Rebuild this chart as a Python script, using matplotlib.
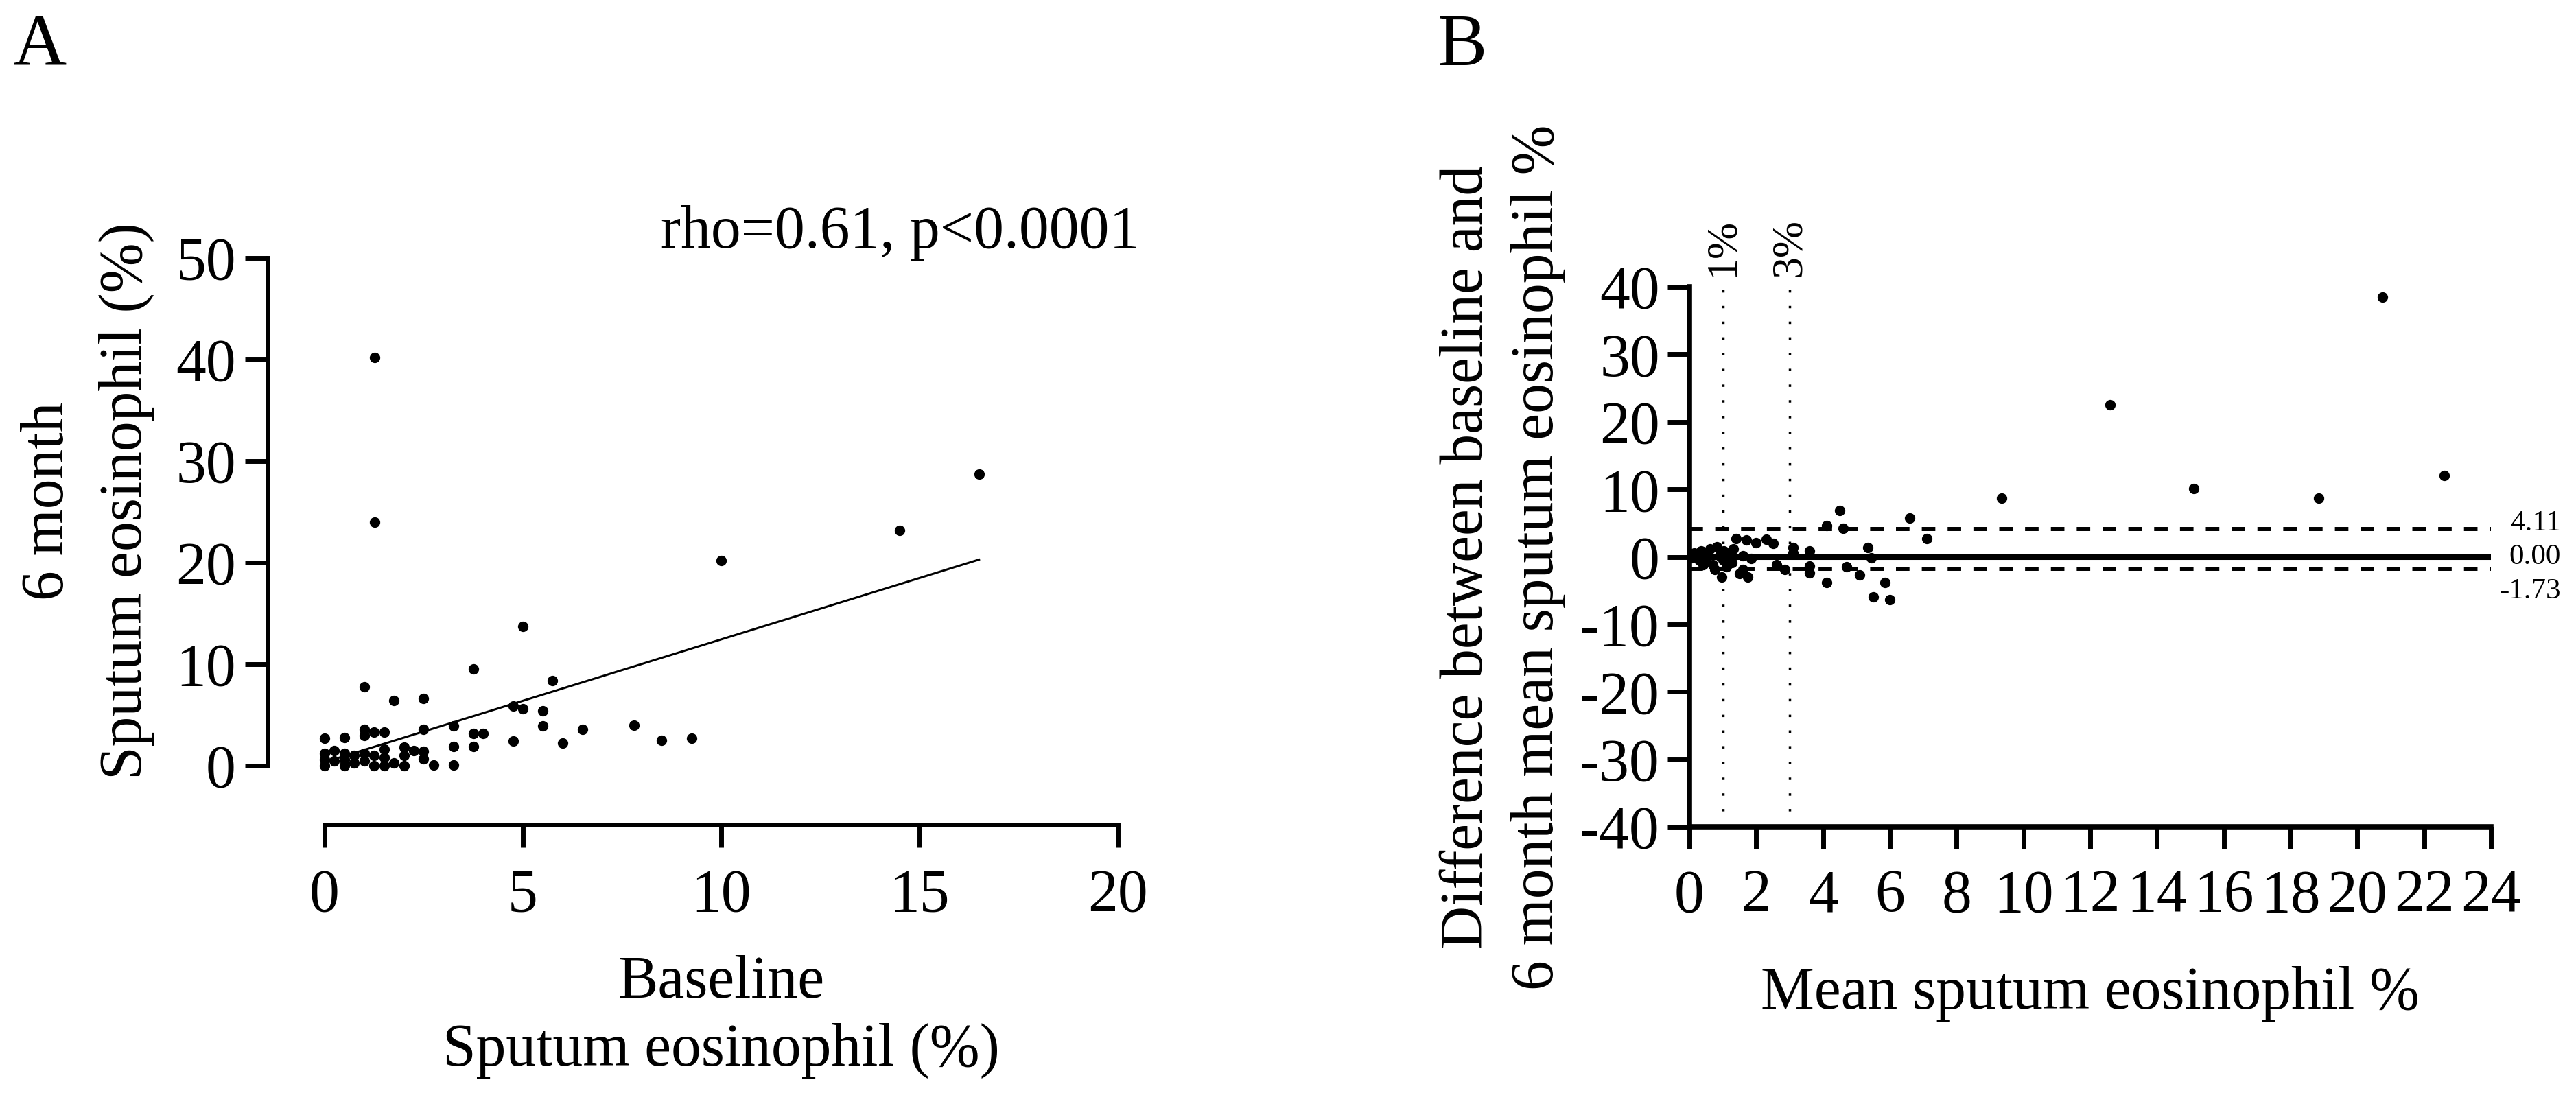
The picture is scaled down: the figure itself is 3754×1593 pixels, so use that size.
import numpy as np
import matplotlib
matplotlib.use("Agg")
import matplotlib.pyplot as plt

plt.rcParams['font.family'] = ['Liberation Serif', 'DejaVu Serif']
plt.rcParams['axes.unicode_minus'] = False

# panel A: baseline vs 6 month sputum eosinophil (%)
a_base = [1.26, 1.26, 16.5, 14.5, 10.0, 5.0, 3.76, 5.75, 1.0,
          1.75, 2.5, 4.75, 5.0, 5.5, 5.5, 6.5, 7.8, 6.0, 4.75, 8.5, 9.25,
          3.75, 4.0, 3.75, 3.25, 3.25, 3.25, 2.75, 2.5,
          0.0, 0.5, 1.0, 1.0, 1.25, 1.5,
          0.0, 0.0, 0.0, 0.25, 0.25, 0.5, 0.5, 0.5, 0.75, 0.75, 1.0, 1.0,
          1.25, 1.25, 1.5, 1.5, 1.5, 1.75, 2.0, 2.0, 2.0, 2.25, 2.5, 2.5]
a_6m = [40.2, 24.0, 28.7, 23.2, 20.2, 13.7, 9.5, 8.4, 7.8,
        6.4, 6.6, 5.9, 5.6, 5.4, 3.9, 3.6, 4.0, 2.2, 2.4, 2.5, 2.7,
        3.2, 3.2, 1.9, 3.9, 1.9, 0.1, 0.1, 3.6,
        2.7, 2.8, 3.6, 3.0, 3.3, 3.3,
        0.0, 0.6, 1.2, 1.5, 0.5, 0.0, 1.2, 0.6, 1.0, 0.3, 1.2, 0.5,
        0.0, 1.0, 0.0, 1.6, 0.8, 0.3, 1.8, 0.0, 1.0, 1.5, 1.4, 0.7]
fit_slope = 1.209
fit_intercept = 0.35
corr_text = "rho=0.61, p<0.0001"

# panel B: Bland-Altman
b_mean = [20.75, 12.6, 15.1, 22.6, 18.85, 9.35,
          4.5, 6.6, 4.1, 4.6, 7.1, 1.4, 1.7, 2.0, 2.3, 2.5, 3.1, 3.6,
          5.35, 5.45, 3.6, 3.6, 4.7, 5.1, 4.1, 5.85, 5.5, 6.0, 2.6, 2.85,
          3.1, 1.6, 1.6, 1.5, 1.75, 1.85,
          0.14, 0.35, 0.49, 0.62, 0.69, 0.83, 0.9, 1.0, 1.03, 1.1, 1.17,
          1.27, 0.76, 0.96, 0.55, 0.28, 1.31, 0.07, 0.42]
b_diff = [38.5, 22.5, 10.1, 12.0, 8.65, 8.65,
          6.9, 5.7, 4.6, 4.2, 2.7, 2.7, 2.5, 2.1, 2.55, 2.0, 1.35, 0.85,
          1.35, -0.2, -1.35, -2.4, -1.5, -2.7, -3.8, -3.8, -5.9, -6.4, -1.2, -1.9,
          0.6, 0.2, -1.9, -2.5, -3.0, -0.3,
          0.51, 0.85, -0.5, 1.2, -1.2, 1.5, 0.17, -0.5, 0.85, -1.5, 0.5,
          -0.85, -1.86, -3.0, 0.17, -0.5, 1.2, -0.17, -1.2]
bias = 0.00
loa_upper = 4.11
loa_lower = -1.73
cutoffs = [1, 3]
cutoff_labels = ["1%", "3%"]

W, H = 3754, 1593
fig = plt.figure(figsize=(W / 100, H / 100), dpi=100)


def fx(p):
    return p / W


def fy(p):
    return 1 - p / H


FS = 63

# ---------- A ----------
ax = fig.add_axes([fx(473), fy(1116), 1156 / W, 740 / H])
ax.plot(a_base, a_6m, 'o', color='black', ms=11, mew=0, clip_on=False, zorder=3)
xl = np.array([min(a_base), max(a_base)])
ax.plot(xl, fit_intercept + fit_slope * xl, color='black', lw=2.2, clip_on=False)
ax.set_xlim(0, 20)
ax.set_ylim(0, 50)
ax.set_xticks([0, 5, 10, 15, 20])
ax.set_yticks([0, 10, 20, 30, 40, 50])
for s in ['top', 'right']:
    ax.spines[s].set_visible(False)
ax.spines['left'].set_position(('outward', 60))
ax.spines['bottom'].set_position(('outward', 62))
for s in ['left', 'bottom']:
    ax.spines[s].set_linewidth(5)
ax.tick_params(axis='both', labelsize=FS, length=24, width=5, direction='out')
ax.tick_params(axis='x', pad=22)
ax.tick_params(axis='y', pad=9)

fig.text(fx(1660), fy(340), corr_text, fontsize=FS, ha='right', va='center')
fig.text(fx(19), fy(95), "A", fontsize=78, ha='left', va='baseline')
fig.text(fx(1051), fy(1454), "Baseline", fontsize=FS, ha='center', va='baseline')
fig.text(fx(1051), fy(1553), "Sputum eosinophil (%)", fontsize=FS, ha='center', va='baseline')
fig.text(fx(92), fy(730), "6 month", fontsize=FS, rotation=90, rotation_mode='anchor',
         ha='center', va='baseline')
fig.text(fx(206), fy(730), "Sputum eosinophil (%)", fontsize=FS, rotation=90,
         rotation_mode='anchor', ha='center', va='baseline')

# ---------- B ----------
bx = fig.add_axes([fx(2462), fy(1205), 1168 / W, 787 / H])
bx.plot(b_mean, b_diff, 'o', color='black', ms=11, mew=0, clip_on=False, zorder=3)
bx.axhline(bias, color='black', lw=5.8)
bx.axhline(loa_upper, color='black', lw=4.3, dashes=(3.3, 3.0))
bx.axhline(loa_lower, color='black', lw=4.3, dashes=(3.3, 3.0))
for c, lab in zip(cutoffs, cutoff_labels):
    bx.axvline(c, color='black', lw=2.5, dashes=(1, 5.6))
    bx.annotate(lab, xy=(c, 40), xytext=(0, 11), textcoords='offset points',
                rotation=90, ha='center', va='bottom', fontsize=46,
                annotation_clip=False)
for val, off in zip([loa_upper, bias, loa_lower], [6, 0, -24]):
    bx.annotate("%.2f" % val, xy=(26.1, val), xytext=(0, off), textcoords='offset points',
                ha='right', va='center', fontsize=31, annotation_clip=False)
bx.set_xlim(0, 24)
bx.set_ylim(-40, 40)
bx.set_xticks(range(0, 25, 2))
bx.set_yticks(range(-40, 41, 10))
for s in ['top', 'right']:
    bx.spines[s].set_visible(False)
for s in ['left', 'bottom']:
    bx.spines[s].set_linewidth(5.5)
bx.tick_params(axis='both', labelsize=FS, length=23, width=5, direction='out')
bx.tick_params(axis='x', pad=21)
bx.tick_params(axis='y', pad=8)

fig.text(fx(2095), fy(95), "B", fontsize=78, ha='left', va='baseline')
fig.text(fx(3046), fy(1470), "Mean sputum eosinophil %", fontsize=FS, ha='center',
         va='baseline')
fig.text(fx(2160), fy(812), "Difference between baseline and", fontsize=FS, rotation=90,
         rotation_mode='anchor', ha='center', va='baseline')
fig.text(fx(2263), fy(812), "6 month mean sputum eosinophil %", fontsize=FS, rotation=90,
         rotation_mode='anchor', ha='center', va='baseline')

fig.savefig("out.png", dpi=100)
